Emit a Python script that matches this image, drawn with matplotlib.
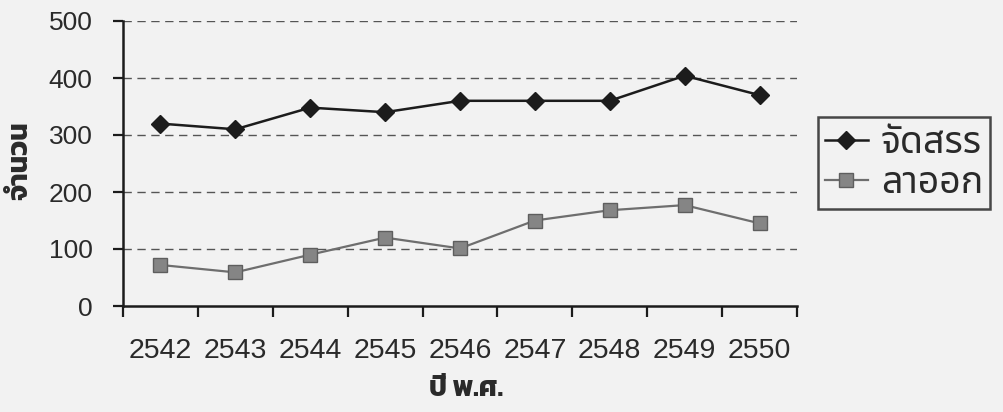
import matplotlib
matplotlib.use("Agg")
import matplotlib.pyplot as plt
from matplotlib import font_manager
from matplotlib.ticker import FixedLocator, NullFormatter

# ---- data -------------------------------------------------------------
years = ["2542", "2543", "2544", "2545", "2546", "2547", "2548", "2549", "2550"]
allocated = [320, 310, 348, 340, 360, 360, 360, 404, 370]   # จัดสรร
resigned = [72, 59, 90, 120, 101, 150, 168, 177, 145]       # ลาออก
y_ticks = [0, 100, 200, 300, 400, 500]

series_names = ["จัดสรร", "ลาออก"]
x_title = "ปี พ.ศ."
y_title = "จำนวน"

# ---- fonts --------------------------------------------------------------
entries = font_manager.fontManager.ttflist
available = {f.name for f in entries}
bold_ok = {f.name for f in entries
           if (isinstance(f.weight, int) and f.weight >= 600) or f.weight in ("bold", "semibold", "demibold")}


def pick(names, pool):
    for n in names:
        if n in pool:
            return n
    return "DejaVu Sans"


latin = pick(["Liberation Sans", "Arimo", "DejaVu Sans"], available)
thai = pick(["Noto Sans Thai", "Noto Sans Thai UI", "Kanit", "Loma"], available)
thai_bold = pick(["Noto Sans Thai", "Noto Sans Thai UI", "Kanit", "Prompt", "Loma"], bold_ok)

plt.rcParams["font.family"] = [latin, thai]

bg = "#f2f2f2"
fig = plt.figure(figsize=(10.04, 4.12), dpi=100, facecolor=bg)
ax = fig.add_axes([123 / 1004, 1 - 306 / 412, (797 - 123) / 1004, (306 - 21) / 412])
ax.set_facecolor(bg)

x = list(range(len(years)))

ax.plot(x, allocated, color="#1c1c1c", lw=1.8, marker="D", ms=9,
        mfc="#1c1c1c", mec="#1c1c1c", label=series_names[0], zorder=4)
ax.plot(x, resigned, color="#6e6e6e", lw=1.6, marker="s", ms=10,
        mfc="#858585", mec="#5e5e5e", mew=1.0, label=series_names[1], zorder=4)

# axes limits / ticks: categories centred between boundary ticks
ax.set_xlim(-0.5, len(years) - 0.5)
ax.set_ylim(0, 500)
ax.set_yticks(y_ticks)
ax.set_xticks(x)
ax.set_xticklabels(years)
ax.xaxis.set_minor_locator(FixedLocator([i - 0.5 for i in range(len(years) + 1)]))
ax.xaxis.set_minor_formatter(NullFormatter())

ax.tick_params(axis="x", which="major", length=0, pad=23, labelsize=20.5, colors="#2a2a2a")
ax.tick_params(axis="x", which="minor", length=8, width=1.6, color="#1c1c1c", direction="out")
ax.tick_params(axis="y", which="major", length=7, width=1.6, color="#1c1c1c",
               pad=15, labelsize=19, labelcolor="#2a2a2a", direction="out")

for side in ("top", "right"):
    ax.spines[side].set_visible(False)
for side in ("left", "bottom"):
    ax.spines[side].set_color("#1c1c1c")
    ax.spines[side].set_linewidth(1.8)

# dashed horizontal gridlines
for yv in y_ticks[1:]:
    ax.axhline(yv, color="#555555", lw=1.0, ls=(0, (6, 4)), zorder=1)

# axis titles
fig.text(20 / 1004, 1 - 161 / 412, y_title, rotation=90, ha="center", va="center",
         fontsize=20, fontweight="bold", family=[thai_bold, latin], color="#2a2a2a")
fig.text(466 / 1004, 1 - 389 / 412, x_title, ha="center", va="center",
         fontsize=20, fontweight="bold", family=[thai_bold, latin], color="#2a2a2a")

# legend box at right
leg = fig.legend(loc="center left", bbox_to_anchor=(818 / 1004, 1 - 163 / 412),
                 frameon=True, fancybox=False, edgecolor="#1c1c1c", facecolor=bg,
                 prop={"family": [thai, latin], "size": 27}, handlelength=1.15,
                 handletextpad=0.35, labelspacing=0.05, borderpad=0.18,
                 borderaxespad=0)
leg.get_frame().set_linewidth(1.8)
for t in leg.get_texts():
    t.set_color("#2a2a2a")

fig.savefig("out.png", dpi=100, facecolor=bg)
